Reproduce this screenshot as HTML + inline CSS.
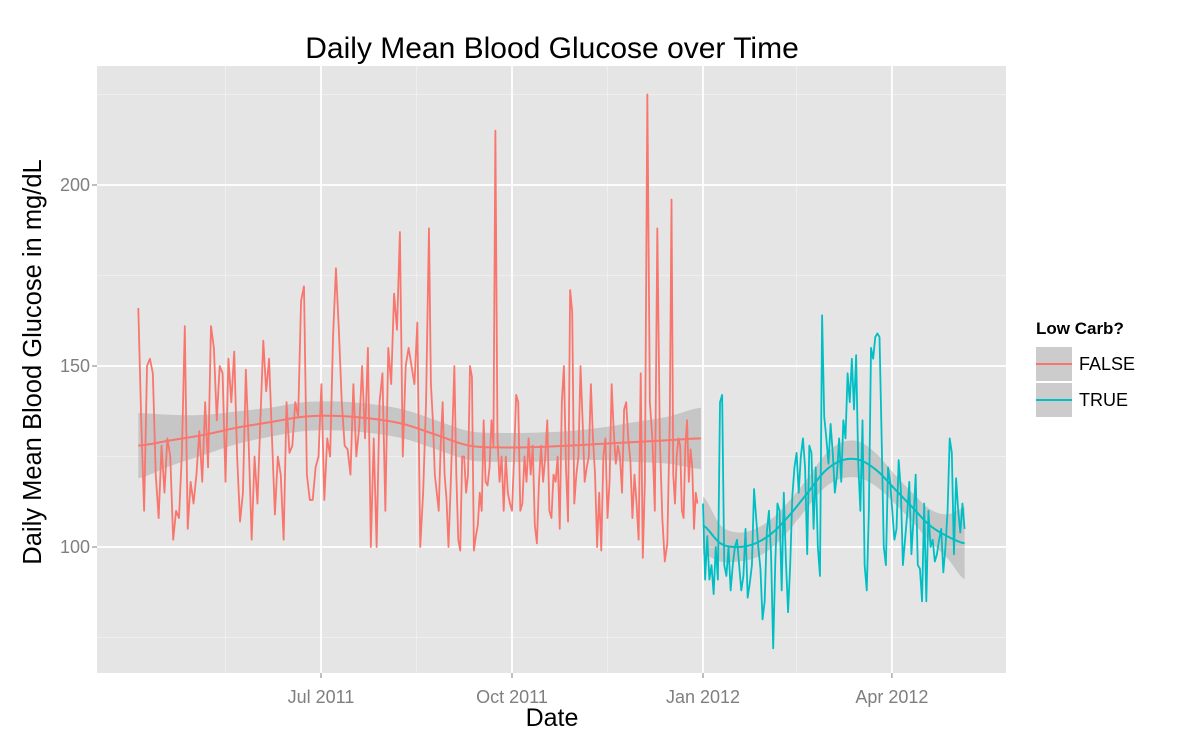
<!DOCTYPE html>
<html><head><meta charset="utf-8"><style>
body{margin:0;background:#fff;}
svg{display:block;font-family:"Liberation Sans",sans-serif;}
</style></head><body>
<svg id="chart" width="1200" height="750">
<rect x="97" y="66" width="909" height="607" fill="#e5e5e5"/>
<g id="grid"></g>
<g id="bands"></g>
<g id="series"></g>
<g id="axes"></g>
<text x="552" y="58" text-anchor="middle" font-size="30" fill="#000">Daily Mean Blood Glucose over Time</text>
<text x="552" y="726" text-anchor="middle" font-size="25" fill="#000">Date</text>
<text transform="translate(41,362) rotate(-90)" text-anchor="middle" font-size="25.5" fill="#000">Daily Mean Blood Glucose in mg/dL</text>
<g>
<text x="1036" y="334" font-size="17" font-weight="bold">Low Carb?</text>
<g>
<rect x="1036" y="347" width="36" height="34" fill="#cccccc"/><line x1="1036" y1="364" x2="1072" y2="364" stroke="#f8766d" stroke-width="2"/>
<text x="1079" y="370" font-size="18">FALSE</text></g>
<g>
<rect x="1036" y="383" width="36" height="34" fill="#cccccc"/><line x1="1036" y1="400" x2="1072" y2="400" stroke="#00bfc4" stroke-width="2"/>
<text x="1079" y="406" font-size="18">TRUE</text></g>
</g>
</svg>
<script>
const redStart = "2011-04-04", redEnd = "2011-12-31";
const redValues = [166,135,110,150,152,148,120,108,128,115,130,125,102,110,108,126,161,105,118,112,120,132,118,140,122,161,155,135,150,148,118,152,140,154,125,107,115,149,128,102,125,112,135,157,143,152,130,109,125,120,102,140,126,128,140,136,168,172,120,113,113,122,125,145,113,130,125,158,177,160,140,128,127,120,145,125,133,150,130,155,100,130,100,140,148,110,155,145,170,160,187,125,150,155,150,145,162,100,115,140,188,145,135,120,115,110,128,140,120,113,100,115,132,150,120,102,99,125,125,115,120,150,147,99,103,106,115,110,135,118,117,122,135,128,215,130,118,125,110,125,115,112,110,125,142,140,110,112,125,118,130,120,128,106,101,118,128,118,125,135,110,108,120,118,125,105,140,150,122,107,171,165,112,120,125,150,135,118,122,125,145,130,120,100,115,99,125,130,108,118,145,132,123,128,125,115,138,140,130,124,108,120,112,102,148,97,118,225,140,130,110,188,130,108,96,101,135,196,120,112,125,130,128,110,108,128,135,118,127,122,105,115,112];
const redAnchorIdx = [0,90,100,134,170,206,216,234];
const redAnchorDay = [0,126,140,172,208,244,256,271];
const tealStart = "2012-01-01", tealEnd = "2012-05-06";
const tealValues = [112,91,103,91,95,87,100,91,140,142,95,92,100,88,95,100,102,95,88,92,105,86,90,95,116,108,100,94,80,85,104,110,98,72,96,112,110,88,115,96,82,95,114,122,126,115,125,130,122,98,128,126,105,122,100,92,164,136,130,123,134,126,115,120,130,118,135,130,148,140,152,138,153,123,110,135,95,88,110,155,152,158,159,158,130,100,95,122,118,110,102,105,124,116,95,102,109,118,98,108,120,95,94,85,112,85,110,100,102,96,98,102,105,93,100,110,130,126,98,119,110,104,112,105];
const redSmooth = [128,129.5,131,133,134.5,136,136.2,135.5,134,131,128,127.5,127.6,128,128.5,129,129.5,130];
const redBand = [9,7,5.5,4.5,4,4,4,4,4,4,4,4,4,4,4.5,5.5,6.5,8.5];
const tealSmooth = [106,101,100,101,104,109,115,121,124,124,121,116,111,106,103,101];
const tealBand = [8,5,4,4,4,4,4,4.5,5,5,4.5,4,4,4.5,6,10];
const yTicks = [100,150,200];
const xTickDates = ["2011-07-01","2011-10-01","2012-01-01","2012-04-01"];
const xTickLabels = ["Jul 2011","Oct 2011","Jan 2012","Apr 2012"];
const xMinorDates = ["2011-05-16","2011-08-16","2011-11-16","2012-02-15"];
const yMinor = [75,125,175,225];

const NS="http://www.w3.org/2000/svg";
const day = s => Date.parse(s+"T00:00:00Z")/86400000;
const X0 = day("2011-07-01"), PXD = 191/92;
const xs = d => 321 + (d - X0)*PXD;
const ys = v => 547 - (v-100)*3.62;
function mk(tag, attrs, parent){const e=document.createElementNS(NS,tag);for(const k in attrs)e.setAttribute(k,attrs[k]);document.getElementById(parent).appendChild(e);return e;}

yMinor.forEach(v=>{const e=mk('line',{x1:97,x2:1006,y1:ys(v),y2:ys(v),stroke:'#f2f2f2','stroke-width':0.8},'grid');

});
xMinorDates.forEach(d=>{const e=mk('line',{x1:xs(day(d)),x2:xs(day(d)),y1:66,y2:673,stroke:'#f2f2f2','stroke-width':0.8},'grid');

});
yTicks.forEach(v=>{const e=mk('line',{x1:97,x2:1006,y1:ys(v),y2:ys(v),stroke:'#fff','stroke-width':1.8},'grid');


const t=mk('text',{x:90,y:ys(v)+6,'text-anchor':'end','font-size':18,fill:'#7f7f7f'},'axes');t.textContent=v;


const k=mk('line',{x1:92,x2:97,y1:ys(v),y2:ys(v),stroke:'#7f7f7f'},'axes');

});
xTickDates.forEach((d,i)=>{const x=xs(day(d));const e=mk('line',{x1:x,x2:x,y1:66,y2:673,stroke:'#fff','stroke-width':1.8},'grid');


const t=mk('text',{x:x,y:703,'text-anchor':'middle','font-size':18,fill:'#7f7f7f'},'axes');t.textContent=xTickLabels[i];


const k=mk('line',{x1:x,x2:x,y1:673,y2:678,stroke:'#7f7f7f'},'axes');

});

function cr(arr,t){const n=arr.length-1;const f=t*n;let i=Math.min(Math.floor(f),n-1);const u=f-i;
const p0=arr[Math.max(i-1,0)],p1=arr[i],p2=arr[i+1],p3=arr[Math.min(i+2,n)];
return 0.5*((2*p1)+(-p0+p2)*u+(2*p0-5*p1+4*p2-p3)*u*u+(-p0+3*p1-3*p2+p3)*u*u*u);}
function dayOf(i,n,d0,d1,aIdx,aDay){
  if(!aIdx){return d0+i*(d1-d0)/(n-1);}
  for(let k=0;k<aIdx.length-1;k++){if(i<=aIdx[k+1]){const f=(i-aIdx[k])/(aIdx[k+1]-aIdx[k]);return d0+aDay[k]+f*(aDay[k+1]-aDay[k]);}}
  return d1;}
function drawSeries(start,end,vals,sm,band,color,name,aIdx,aDay){
const d0=day(start),d1=day(end);
let up=[],lo=[],mid=[];const N=80;
for(let i=0;i<=N;i++){const t=i/N;const x=xs(d0+t*(d1-d0));const m=cr(sm,t),b=cr(band,t);
mid.push(x+','+ys(m));up.push(x+','+ys(m+b));lo.unshift(x+','+ys(m-b));}
const bp=mk('polygon',{points:up.concat(lo).join(' '),fill:'#999999','fill-opacity':0.4},'bands');


const pts=vals.map((v,i)=>xs(dayOf(i,vals.length,d0,d1,aIdx,aDay))+','+ys(v)).join(' ');
const l=mk('polyline',{points:pts,fill:'none',stroke:color,'stroke-width':1.8,'stroke-linejoin':'round'},'series');


const s=mk('polyline',{points:mid.join(' '),fill:'none',stroke:color,'stroke-width':2},'series');

}
drawSeries(redStart,redEnd,redValues,redSmooth,redBand,'#f8766d','false-series',redAnchorIdx,redAnchorDay);
drawSeries(tealStart,tealEnd,tealValues,tealSmooth,tealBand,'#00bfc4','true-series');
</script>
</body></html>
